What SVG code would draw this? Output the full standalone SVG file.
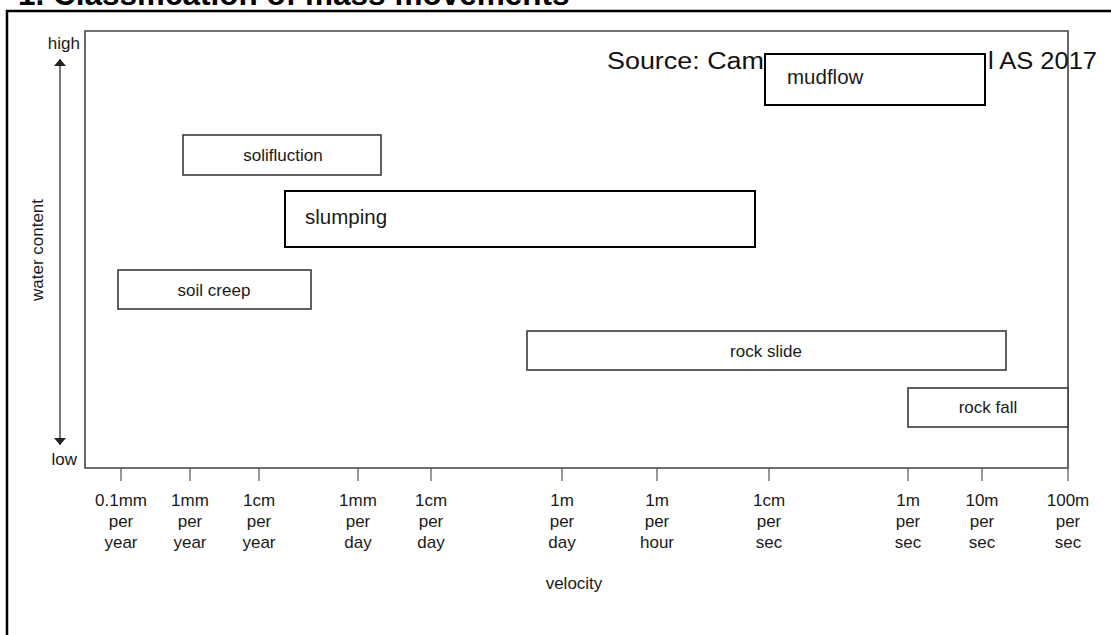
<svg xmlns="http://www.w3.org/2000/svg" width="1111" height="635" viewBox="0 0 1111 635">
<style>
text{font-family:"Liberation Sans",Arial,sans-serif;fill:#1a1a1a}
.lbl{font-size:17px;text-anchor:middle}
.tick{font-size:17px;text-anchor:middle}
.box{fill:#fff;stroke:#3a3a3a;stroke-width:1.6}
.bigbox{fill:#fff;stroke:#000;stroke-width:2}
.big{font-size:20.5px}
.axis{fill:none;stroke:#444;stroke-width:1.6}
.tk{stroke:#555;stroke-width:1.2}
.src{font-size:23px;fill:#111}
</style>
<defs>
<marker id="ah" viewBox="0 0 10 10" refX="10" refY="5" markerWidth="7" markerHeight="12" markerUnits="userSpaceOnUse" orient="auto-start-reverse" preserveAspectRatio="none">
<path d="M0,0 L10,5 L0,10 z" fill="#222"/>
</marker>
</defs>
<rect width="1111" height="635" fill="#fff"/>
<text x="18" y="5" style="font-size:31.5px;font-weight:bold;fill:#000">1. Classification of mass movements</text>
<rect x="7" y="11" width="1200" height="700" fill="none" stroke="#000" stroke-width="2.5"/>
<g id="plot">
<path class="axis" d="M85,31 H1068 V468 H85 Z"/>
</g>
<g id="source">
<text class="src" x="607" y="69" textLength="157" lengthAdjust="spacingAndGlyphs">Source: Cam</text>
<text class="src" x="988" y="69" textLength="109" lengthAdjust="spacingAndGlyphs">l AS 2017</text>
</g>
<g id="y-axis">
<text x="80" y="49" style="font-size:17px;text-anchor:end">high</text>
<text x="77" y="465" style="font-size:17px;text-anchor:end">low</text>
<text transform="translate(43,250) rotate(-90)" style="font-size:17px;text-anchor:middle">water content</text>
</g>
<g id="connectors">
<line x1="60" y1="250" x2="60" y2="59" stroke="#333" stroke-width="1.3" marker-end="url(#ah)"/>
<line x1="60" y1="250" x2="60" y2="445" stroke="#333" stroke-width="1.3" marker-end="url(#ah)"/>
</g>
<g id="ticks">
<path class="tk" d="M121,468v13M190,468v13M259,468v13M358,468v13M431,468v13M562,468v13M657,468v13M769,468v13M908,468v13M982,468v13M1068,468v13"/>
<text class="tick" x="121" y="506">0.1mm</text><text class="tick" x="121" y="527">per</text><text class="tick" x="121" y="548">year</text>
<text class="tick" x="190" y="506">1mm</text><text class="tick" x="190" y="527">per</text><text class="tick" x="190" y="548">year</text>
<text class="tick" x="259" y="506">1cm</text><text class="tick" x="259" y="527">per</text><text class="tick" x="259" y="548">year</text>
<text class="tick" x="358" y="506">1mm</text><text class="tick" x="358" y="527">per</text><text class="tick" x="358" y="548">day</text>
<text class="tick" x="431" y="506">1cm</text><text class="tick" x="431" y="527">per</text><text class="tick" x="431" y="548">day</text>
<text class="tick" x="562" y="506">1m</text><text class="tick" x="562" y="527">per</text><text class="tick" x="562" y="548">day</text>
<text class="tick" x="657" y="506">1m</text><text class="tick" x="657" y="527">per</text><text class="tick" x="657" y="548">hour</text>
<text class="tick" x="769" y="506">1cm</text><text class="tick" x="769" y="527">per</text><text class="tick" x="769" y="548">sec</text>
<text class="tick" x="908" y="506">1m</text><text class="tick" x="908" y="527">per</text><text class="tick" x="908" y="548">sec</text>
<text class="tick" x="982" y="506">10m</text><text class="tick" x="982" y="527">per</text><text class="tick" x="982" y="548">sec</text>
<text class="tick" x="1068" y="506">100m</text><text class="tick" x="1068" y="527">per</text><text class="tick" x="1068" y="548">sec</text>
<text class="tick" x="574" y="589">velocity</text>
</g>
<g id="mudflow">
<rect class="bigbox" x="765" y="54" width="220" height="51"/>
<text class="big" x="787" y="84">mudflow</text>
</g>
<g id="solifluction">
<rect class="box" x="183" y="135" width="198" height="40"/>
<text class="lbl" x="283" y="161">solifluction</text>
</g>
<g id="slumping">
<rect class="bigbox" x="285" y="191" width="470" height="56"/>
<text class="big" x="305" y="224">slumping</text>
</g>
<g id="soil-creep">
<rect class="box" x="118" y="270" width="193" height="39"/>
<text class="lbl" x="214" y="296">soil creep</text>
</g>
<g id="rock-slide">
<rect class="box" x="527" y="331" width="479" height="39"/>
<text class="lbl" x="766" y="357">rock slide</text>
</g>
<g id="rock-fall">
<rect class="box" x="908" y="388" width="160" height="39"/>
<text class="lbl" x="988" y="413">rock fall</text>
</g>
</svg>
